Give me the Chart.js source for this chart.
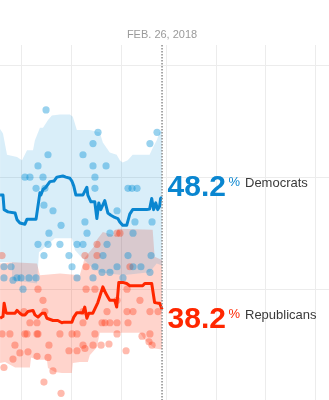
<!DOCTYPE html>
<html><head><meta charset="utf-8">
<script src="https://cdn.jsdelivr.net/npm/chart.js@4/dist/chart.umd.min.js"></script>
<style>html,body{margin:0;padding:0;background:#fff;}#wrap{width:329px;height:400px;}</style>
</head><body><div id="wrap"><canvas id="c" width="329" height="400"></canvas></div>
<script>
// x values: days since Dec. 1, 2017
const monthTicks = [0, 31, 62, 90, 121, 151, 182];
const yTicks = [40, 50, 60];
const markerDay = 87;
const markerLabel = 'FEB. 26, 2018';
const demName = 'Democrats', repName = 'Republicans';
const demFinal = 48.2, repFinal = 38.2;

const demAvgDays = [-13.4,-11.6,-10.9,-8.5,-4.1,-2.9,-1.1,2.0,3.3,8.9,11.3,11.9,13.2,15.0,17.5,20.0,21.8,25.5,27.4,29.9,31.1,32.3,33.6,37.9,40.4,41.0,42.9,45.3,46.6,47.8,49.0,51.5,53.4,55.3,57.7,59.6,60.8,62.6,65.1,67.0,68.8,77.5,79.3,80.6,81.8,83.1,84.3,85.5,86.1,87];
const demAvgVals = [48.4,48.4,47.1,46.9,46.8,46.2,45.9,45.8,46.25,46.25,48.6,48.4,48.9,49.1,49.6,49.65,50.0,50.1,50.0,49.9,49.65,49.2,48.4,48.4,49.1,48.4,47.8,47.8,46.3,47.7,47.1,47.9,46.8,46.6,46.4,46.3,46.0,45.7,45.7,46.7,47.1,47.1,47.15,48.1,47.1,47.7,47.1,47.4,48.1,48.2];

const repAvgDays = [-13.4,-11.6,-10.9,-9.7,-9.1,-4.1,-2.9,-1.1,0.2,2.0,3.9,7.0,8.2,10.1,12.6,14.4,15.6,19.4,22.4,24.9,26.2,31.1,32.3,34.2,37.9,39.1,40.4,41.6,44.1,47.2,50.3,52.2,53.4,54.6,57.7,58.9,60.2,62.6,65.1,67.0,75.0,76.3,80.6,82.4,84.3,85.5,87];
const repAvgVals = [37.4,37.55,38.75,37.9,37.85,37.85,38.1,37.85,37.7,37.7,38.0,38.1,37.7,37.5,37.85,37.85,37.4,37.2,37.2,37.0,37.05,37.05,37.5,37.9,37.9,38.4,37.4,37.85,37.85,38.8,40.2,39.6,39.3,39.0,39.0,38.4,40.6,40.6,40.5,40.3,40.3,40.5,40.5,38.8,38.75,38.75,38.2];

const demHiDays = [-13.4,-11.6,-9.1,-2.9,0.2,3.3,7.0,8.2,11.3,13.2,16.3,18.7,23.7,29.9,31.7,34.2,42.2,48.4,50.3,54.6,58.9,60.8,62.6,65.7,68.8,79.3,81.2,83.7,85.5,87];
const demHiVals = [54.3,53.9,52.0,51.8,51.5,52.4,52.4,53.3,54.4,54.4,55.1,55.5,55.6,55.6,55.4,54.2,54.2,54.0,53.1,52.2,52.0,51.5,51.3,51.5,52.0,52.0,52.6,53.3,54.0,54.2];
const demLoDays = [-13.4,-6.0,-5.4,9.5,10.7,20.6,31.1,33.0,36.0,42.2,48.4,62.6,79.3,83.7,87];
const demLoVals = [42.4,42.4,40.8,40.5,43.3,44.55,44.55,43.5,43.0,42.1,41.5,41.25,41.5,42.3,42.1];

const repHiDays = [-13.4,-5.4,9.5,11.3,23.7,36.0,39.1,45.3,46.6,50.3,57.7,59.6,81.2,82.4,87];
const repHiVals = [42.3,42.4,42.3,41.25,41.4,41.25,42.8,43.9,44.4,45.1,44.8,45.4,45.3,42.9,42.6];
const repLoDays = [-13.4,-10.3,-4.1,5.1,5.8,9.5,15.6,16.3,20.6,24.9,31.1,31.7,36.0,41.0,42.2,46.6,48.4,73.2,76.3,82.4,87];
const repLoVals = [33.4,33.5,33.0,33.0,33.9,33.7,33.7,32.95,32.6,32.5,32.5,33.4,33.5,33.5,34.1,34.8,36.1,36.1,35.45,34.7,34.6];

const demPollDays = [15.1,47.3,83.9,44.2,79.5,16.3,38.0,10.1,44.2,52.3,2.0,5.1,13.2,45.4,8.9,14.4,45.4,65.9,68.4,71.5,13.8,19.4,59.1,24.4,39.2,70.2,80.8,16.9,40.5,54.7,69.0,10.1,16.3,23.7,34.3,38.0,52.9,13.8,29.3,65.9,80.2,50.4,-11.0,-6.6,31.2,45.4,59.1,69.0,73.9,-11.0,-5.4,-2.9,-0.4,4.5,8.9,34.3,44.2,49.8,54.7,62.8,79.5,0.8];
const demPollVals = [56,54,54,53,53,52,52,51,51,51,50,50,50,50,49,49,49,49,49,49,47.5,47,47,45.7,46,46,46,45,45,45,45,44,44,44,44,44,44,43,43,43,43,43,42,42,42,42,42,42,42,41,40.8,41,41,41,41,41,41,41.5,41.5,41,41.5,40];

const repPollDays = [-12.2,39.2,46.7,39.9,67.1,10.1,39.9,45.4,65.3,13.2,59.1,73.3,1.4,14.4,38.0,52.9,65.3,69.0,79.5,84.5,5.1,9.5,38.0,49.8,51.6,54.7,59.1,65.9,-12.2,-7.3,2.0,3.3,9.5,10.1,23.7,31.2,34.3,45.4,59.1,79.5,74.6,78.9,44.2,49.2,54.1,-4.2,16.9,38.0,39.2,80.8,29.3,34.3,64.7,3.9,-1.1,9.5,16.3,-5.4,-11.0,19.4,13.8,24.4,46.7,59.1,60.9];
const repPollVals = [43,43,43,42,42,40,40,40,40,39,39,39,38,38,38,38,38,38,38,38,37,37,37,37,37,37,37,37,36,36,36,36,36,36,36,36,36,36,36,36,35.8,35.3,35,35,35.1,35,35,35,34.7,35,34.5,34.5,34.5,34.4,34.3,34,33.9,33.75,33,32.7,31.7,30.7,44,45,45];

const BLUE = '#0a86d0', RED = '#ff2700';
const pts = (xs, ys) => xs.map((x, i) => ({x, y: ys[i]}));

const overlay = {
  id: 'overlay',
  afterDraw(chart) {
    const {ctx, chartArea, scales} = chart;
    const mx = scales.x.getPixelForValue(markerDay);
    ctx.save();
    ctx.strokeStyle = '#8c8c8c';
    ctx.lineWidth = 1.5;
    ctx.setLineDash([1.5, 1.5]);
    ctx.beginPath();
    ctx.moveTo(mx, chartArea.top);
    ctx.lineTo(mx, chartArea.bottom);
    ctx.stroke();
    ctx.setLineDash([]);
    ctx.fillStyle = '#9a9a9a';
    ctx.font = '11px "Liberation Sans", Arial, sans-serif';
    ctx.textAlign = 'center';
    ctx.textBaseline = 'alphabetic';
    ctx.fillText(markerLabel, mx, 38);
    ctx.textAlign = 'left';
    const lab = (val, color, name, dy) => {
      const base = scales.y.getPixelForValue(val) + dy;
      let x = mx + 5.5;
      ctx.fillStyle = color;
      ctx.font = 'bold 30px "Liberation Sans", Arial, sans-serif';
      const num = val.toFixed(1);
      ctx.fillText(num, x, base);
      x += ctx.measureText(num).width + 2.5;
      ctx.font = '13px "Liberation Sans", Arial, sans-serif';
      ctx.fillText('%', x, base - 10);
      x += ctx.measureText('%').width + 5;
      ctx.fillStyle = '#3a3a3a';
      ctx.fillText(name, x, base - 9);
    };
    lab(demFinal, BLUE, demName, -1);
    lab(repFinal, RED, repName, 19);
    ctx.restore();
  }
};

new Chart(document.getElementById('c'), {
  type: 'line',
  data: {
    datasets: [
      {data: pts(demAvgDays, demAvgVals), borderColor: BLUE, borderWidth: 3, pointRadius: 0, pointHoverRadius: 0, fill: false, tension: 0, borderJoinStyle: 'round'},
      {data: pts(repAvgDays, repAvgVals), borderColor: RED, borderWidth: 3, pointRadius: 0, pointHoverRadius: 0, fill: false, tension: 0, borderJoinStyle: 'round'},
      {data: pts(demPollDays, demPollVals), showLine: false, pointRadius: 3.6, pointHoverRadius: 3.6, pointBorderWidth: 0, pointBackgroundColor: 'rgba(0,143,213,0.4)', borderColor: 'transparent'},
      {data: pts(repPollDays, repPollVals), showLine: false, pointRadius: 3.6, pointHoverRadius: 3.6, pointBorderWidth: 0, pointBackgroundColor: 'rgba(255,39,0,0.32)', borderColor: 'transparent'},
      {data: pts(demHiDays, demHiVals), borderWidth: 0, borderColor: 'transparent', pointRadius: 0, pointHoverRadius: 0, fill: '+1', backgroundColor: 'rgba(0,143,213,0.15)', tension: 0},
      {data: pts(demLoDays, demLoVals), borderWidth: 0, borderColor: 'transparent', pointRadius: 0, pointHoverRadius: 0, fill: false, tension: 0},
      {data: pts(repHiDays, repHiVals), borderWidth: 0, borderColor: 'transparent', pointRadius: 0, pointHoverRadius: 0, fill: '+1', backgroundColor: 'rgba(255,39,0,0.2)', tension: 0},
      {data: pts(repLoDays, repLoVals), borderWidth: 0, borderColor: 'transparent', pointRadius: 0, pointHoverRadius: 0, fill: false, tension: 0}
    ]
  },
  options: {
    responsive: false,
    animation: false,
    events: [],
    layout: {autoPadding: false, padding: {top: 45, left: 0, right: 0, bottom: 0}},
    plugins: {legend: {display: false}, tooltip: {enabled: false}},
    scales: {
      x: {
        type: 'linear', min: -13.45, max: 190.5,
        afterBuildTicks: s => { s.ticks = monthTicks.map(v => ({value: v})); },
        ticks: {display: false},
        grid: {color: '#ececec', lineWidth: 1, drawTicks: false},
        border: {display: false}
      },
      y: {
        type: 'linear', min: 30.1, max: 61.8,
        afterBuildTicks: s => { s.ticks = yTicks.map(v => ({value: v})); },
        ticks: {display: false},
        grid: {color: '#ececec', lineWidth: 1, drawTicks: false},
        border: {display: false}
      }
    }
  },
  plugins: [overlay]
});
</script></body></html>
